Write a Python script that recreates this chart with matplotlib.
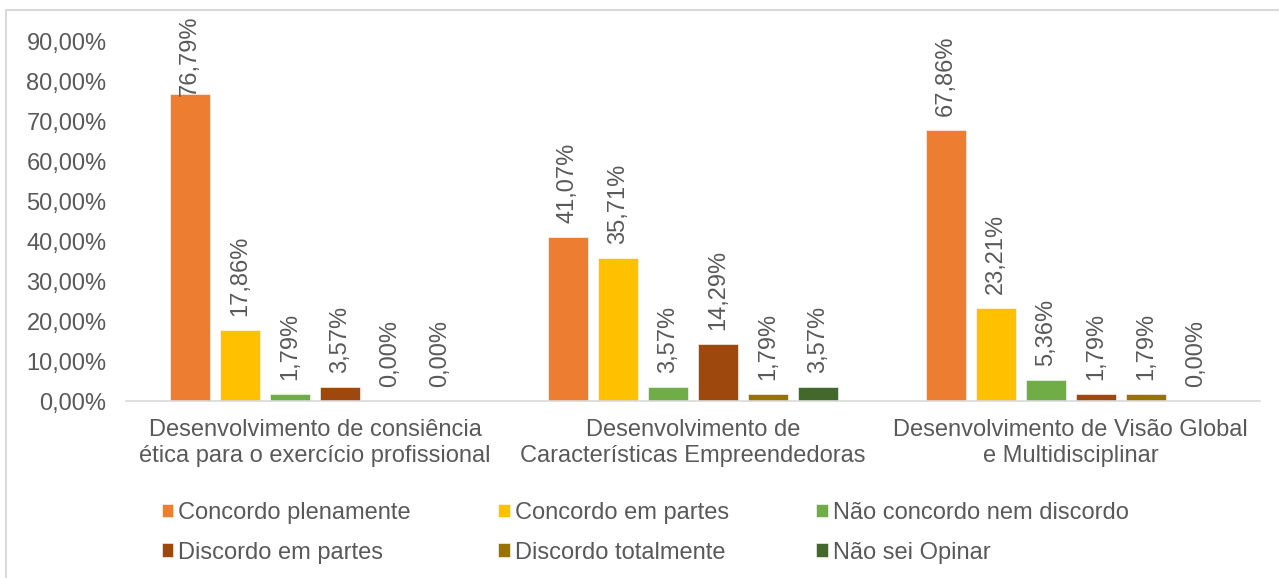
import numpy as np
import matplotlib.pyplot as plt
from matplotlib.patches import Rectangle
from matplotlib.ticker import FuncFormatter

plt.rcParams['font.family'] = ['Liberation Sans', 'DejaVu Sans']

categorias = ['Desenvolvimento de consiência\nética para o exercício profissional',
              'Desenvolvimento de\nCaracterísticas Empreendedoras',
              'Desenvolvimento de Visão Global\ne Multidisciplinar']
series = ['Concordo plenamente', 'Concordo em partes', 'Não concordo nem discordo',
          'Discordo em partes', 'Discordo totalmente', 'Não sei Opinar']
concordo_plen = [76.79, 41.07, 67.86]
concordo_part = [17.86, 35.71, 23.21]
nao_conc_nem_disc = [1.79, 3.57, 5.36]
discordo_part = [3.57, 14.29, 1.79]
discordo_total = [0.00, 1.79, 1.79]
nao_sei = [0.00, 3.57, 0.00]
valores = [concordo_plen, concordo_part, nao_conc_nem_disc,
           discordo_part, discordo_total, nao_sei]
cores = ['#ED7D31', '#FFC000', '#70AD47', '#9E480E', '#997300', '#43682B']

texto = '#595959'
fs = 17

fig = plt.figure(figsize=(12.79, 5.78), dpi=100)
ax = fig.add_axes([0.0985, 0.3062, 0.8865, 0.6228])

# moldura cinza do grafico
fig.patches.append(Rectangle((6 / 1279, -0.1), 1.2, 1 - 10 / 578 + 0.1,
                             transform=fig.transFigure, fill=False,
                             edgecolor='#d9d9d9', linewidth=1.5))

x = np.arange(len(categorias))
largura = 40 / 378
passo = 50 / 378
topo = 96.5  # limite superior para os rotulos (em % do eixo)

barras = []
for i, (nome, vals, cor) in enumerate(zip(series, valores, cores)):
    pos = x + (i - 2.5) * passo
    b = ax.bar(pos, vals, width=largura, color=cor, label=nome,
               edgecolor='white', linewidth=0.4)
    barras.append(b)
    for px, v in zip(pos, vals):
        rot = ('%.2f%%' % v).replace('.', ',')
        if v + 3.5 + 21 > topo:
            ax.text(px, topo, rot, rotation=90, ha='center', va='top',
                    fontsize=fs, color=texto, clip_on=False)
        else:
            ax.annotate(rot, (px, v), xytext=(0, 10), textcoords='offset points',
                        rotation=90, ha='center', va='bottom',
                        fontsize=fs, color=texto, annotation_clip=False)

ax.set_xlim(-0.5, 2.5)
ax.set_ylim(0, 90)
ax.set_yticks(np.arange(0, 91, 10))
ax.yaxis.set_major_formatter(FuncFormatter(lambda v, p: ('%.2f%%' % v).replace('.', ',')))
ax.set_xticks(x)
ax.set_xticklabels(categorias, fontsize=fs, color=texto, linespacing=1.25)
ax.tick_params(axis='y', labelsize=fs, labelcolor=texto, length=0, pad=14)
ax.tick_params(axis='x', length=0, pad=13)
for s in ['top', 'right', 'left']:
    ax.spines[s].set_visible(False)
ax.spines['bottom'].set_color('#d9d9d9')
ax.spines['bottom'].set_linewidth(1.2)

# legenda em linhas (matplotlib preenche por coluna)
ordem = [0, 3, 1, 4, 2, 5]
leg = fig.legend([barras[k] for k in ordem], [series[k] for k in ordem],
                 loc='upper left', bbox_to_anchor=(0.119, 0.148), ncol=3,
                 frameon=False, fontsize=fs, handlelength=0.5, handleheight=0.5,
                 handletextpad=0.2, columnspacing=3.7, labelspacing=0.75,
                 borderaxespad=0)
for t in leg.get_texts():
    t.set_color(texto)

fig.savefig('out.png', dpi=100)
